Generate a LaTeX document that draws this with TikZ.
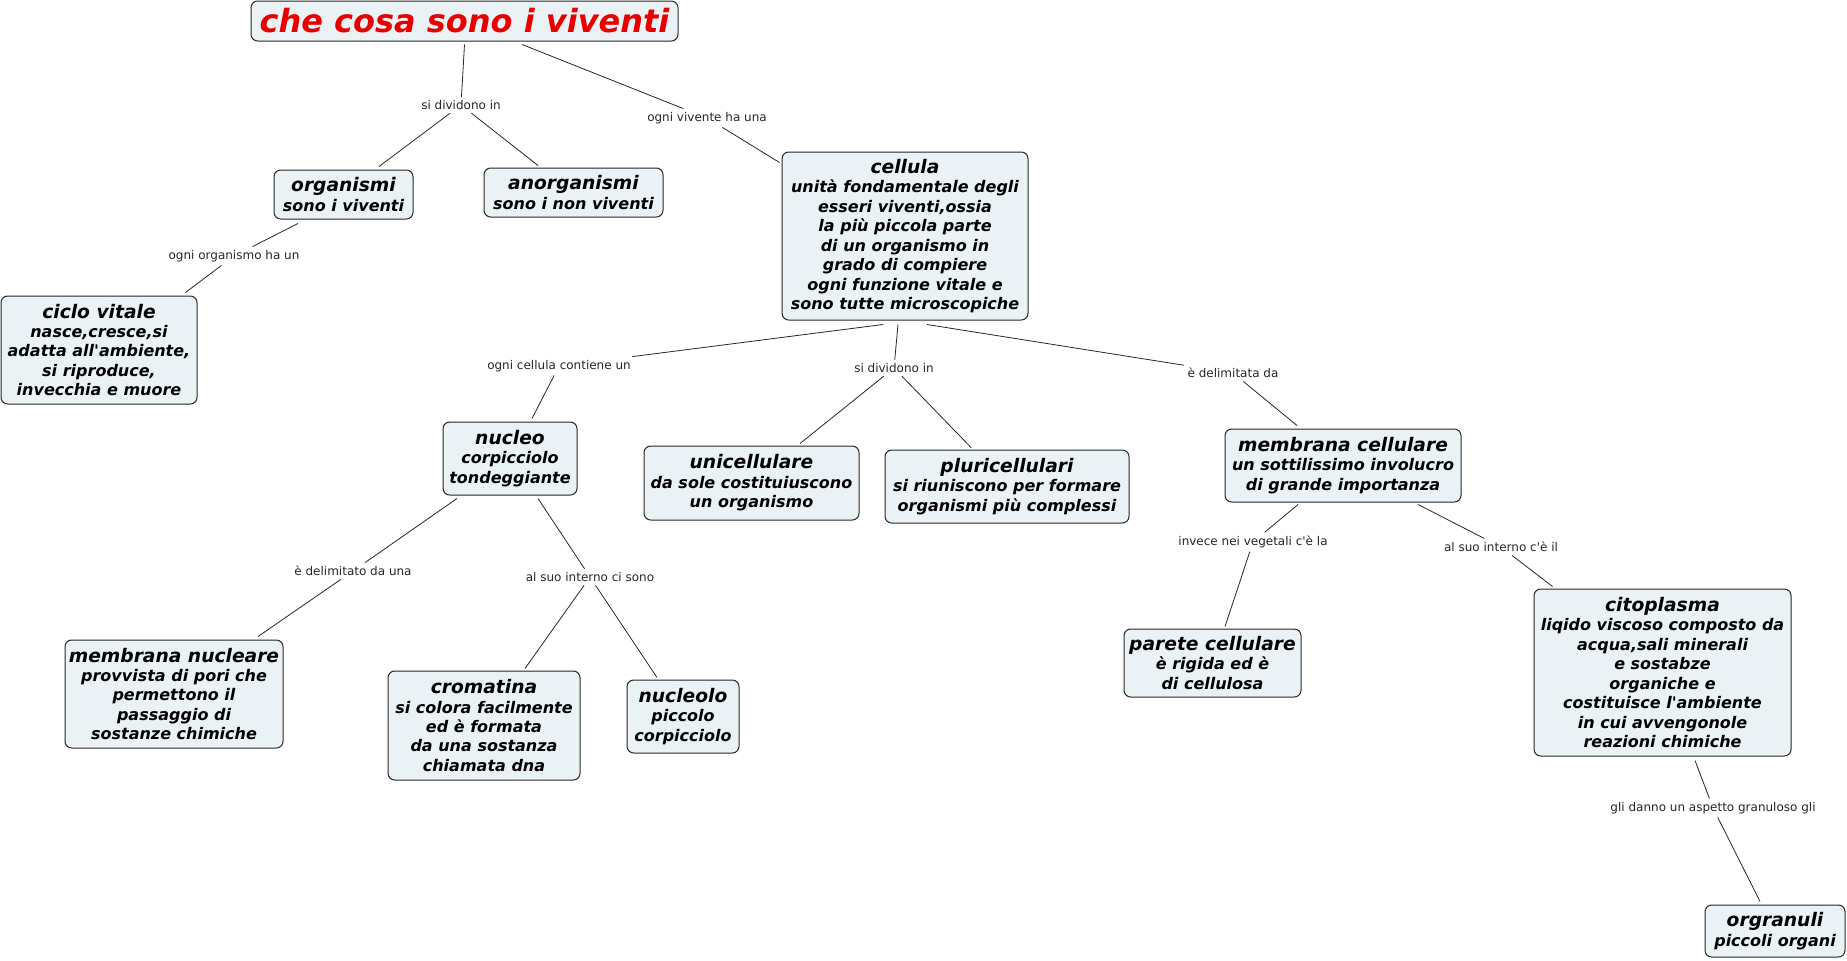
\documentclass[tikz,border=0pt]{standalone}
\usepackage{fontspec}
\setmainfont{DejaVu Sans}
\usetikzlibrary{calc}
\definecolor{boxfill}{RGB}{235,242,245}
\definecolor{titlered}{RGB}{232,0,0}
\newcommand{\hd}[1]{{\fontsize{14}{14.6}\selectfont #1}}
\newcommand{\ap}{\textquotesingle}
\tikzset{
  box/.style={draw=black!85, fill=boxfill, rounded corners=5pt, line width=0.75pt,
    align=center, inner sep=0pt, font=\fontsize{12}{14.6}\selectfont\bfseries\itshape},
  sz/.style 2 args={minimum width=#1*0.75pt, minimum height=#2*0.75pt},
  lab/.style={font=\fontsize{9}{11}\selectfont, inner sep=2.5pt, text=black!85},
  conn/.style={draw=black!85, line width=0.6pt},
}
\begin{document}
\begin{tikzpicture}[x=0.75pt,y=-0.75pt]
\useasboundingbox (0,0) rectangle (1847,960);
% nodes
\node[box, sz={427}{40}, font=\fontsize{24}{28}\selectfont\bfseries\itshape, text=titlered] (title) at (464.5,21) {che cosa sono i viventi};
\node[box, sz={139}{49}] (organismi) at (343.5,194.5) {\hd{organismi}\\sono i viventi};
\node[box, sz={179}{49}] (anorganismi) at (573.5,192.5) {\hd{anorganismi}\\sono i non viventi};
\node[box, sz={246}{168}] (cellula) at (905,236) {\hd{cellula}\\unità fondamentale degli\\esseri viventi,ossia\\la più piccola parte\\ di un organismo in\\grado di compiere\\ogni funzione vitale e\\ sono tutte microscopiche};
\node[box, sz={196}{108}] (ciclo) at (99,350) {\hd{ciclo vitale}\\nasce,cresce,si\\adatta all\ap{}ambiente,\\si riproduce,\\invecchia e muore};
\node[box, sz={134}{73}] (nucleo) at (510,458.5) {\hd{nucleo}\\corpicciolo\\tondeggiante};
\node[box, sz={215}{74}] (unicellulare) at (751.5,483) {\hd{unicellulare}\\da sole costituiuscono\\un organismo};
\node[box, sz={244}{73}] (pluri) at (1007,486.5) {\hd{pluricellulari}\\si riuniscono per formare\\ organismi più complessi};
\node[box, sz={236}{73}] (memcell) at (1343,465.5) {\hd{membrana cellulare}\\un sottilissimo involucro\\di grande importanza};
\node[box, sz={218}{108}] (memnuc) at (174,694) {\hd{membrana nucleare}\\provvista di pori che\\ permettono il\\passaggio di\\sostanze chimiche};
\node[box, sz={192}{109}] (cromatina) at (484,725.5) {\hd{cromatina}\\si colora facilmente\\ed è formata\\ da una sostanza\\chiamata dna};
\node[box, sz={112}{73}] (nucleolo) at (683,716.5) {\hd{nucleolo}\\piccolo\\corpicciolo};
\node[box, sz={177}{68}] (parete) at (1212.5,663) {\hd{parete cellulare}\\è rigida ed è\\di cellulosa};
\node[box, sz={257}{167}] (citoplasma) at (1662.5,672.5) {\hd{citoplasma}\\liqido viscoso composto da\\acqua,sali minerali\\e sostabze\\organiche e\\costituisce l\ap{}ambiente\\in cui avvengonole\\reazioni chimiche};
\node[box, sz={140}{52}] (orgranuli) at (1775,931) {\hd{orgranuli}\\piccoli organi};
% labels
\node[lab] (l1) at (461,105) {si dividono in};
\node[lab] (l2) at (707,118) {ogni vivente ha una};
\node[lab] (l3) at (234,256) {ogni organismo ha un};
\node[lab] (l4) at (559,366) {ogni cellula contiene un};
\node[lab] (l5) at (894,368) {si dividono in};
\node[lab] (l6) at (1233,373) {è delimitata da};
\node[lab] (l7) at (353,571) {è delimitato da una};
\node[lab] (l8) at (590,577) {al suo interno ci sono};
\node[lab] (l9) at (1253,542) {invece nei vegetali c\ap{}è la};
\node[lab] (l10) at (1501,547) {al suo interno c\ap{}è il};
\node[lab] (l11) at (1713,808) {gli danno un aspetto granuloso gli};
% connectors
\draw[conn] ($(title.south)+(0,3)$) -- (l1);
\draw[conn] (l1) -- ($(organismi.north)+(35.5,-3)$);
\draw[conn] (l1) -- ($(anorganismi.north)+(-35.5,-2)$);
\draw[conn] ($(title.south)+(57.5,3)$) -- (l2);
\draw[conn] (l2) -- ($(cellula.north west)+(-2,11)$);
\draw[conn] ($(organismi.south)+(-45.5,4)$) -- (l3);
\draw[conn] (l3) -- ($(ciclo.north east)+(-12,-3)$);
\draw[conn] ($(cellula.south)+(-22,4)$) -- (l4);
\draw[conn] (l4) -- ($(nucleo.north)+(22,-3)$);
\draw[conn] ($(cellula.south)+(-7,4)$) -- (l5);
\draw[conn] (l5) -- ($(unicellulare.north)+(48.5,-2)$);
\draw[conn] (l5) -- ($(pluri.north)+(-36,-2)$);
\draw[conn] ($(cellula.south)+(22,4)$) -- (l6);
\draw[conn] (l6) -- ($(memcell.north)+(-46,-3)$);
\draw[conn] ($(nucleo.south)+(-53,3)$) -- (l7);
\draw[conn] (l7) -- ($(memnuc.north)+(84,-3)$);
\draw[conn] ($(nucleo.south)+(28,3)$) -- (l8);
\draw[conn] (l8) -- ($(cromatina.north)+(41,-2)$);
\draw[conn] (l8) -- ($(nucleolo.north)+(-26,-2)$);
\draw[conn] ($(memcell.south)+(-45,2)$) -- (l9);
\draw[conn] (l9) -- ($(parete.north)+(12.5,-2)$);
\draw[conn] ($(memcell.south)+(75,2)$) -- (l10);
\draw[conn] (l10) -- ($(citoplasma.north west)+(19,-2)$);
\draw[conn] ($(citoplasma.south)+(32.5,4)$) -- (l11);
\draw[conn] (l11) -- ($(orgranuli.north)+(-15,-3)$);
\end{tikzpicture}
\end{document}
